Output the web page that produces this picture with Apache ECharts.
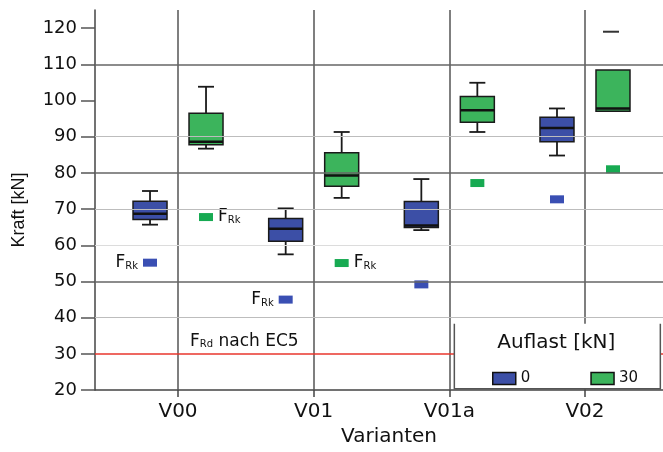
<!DOCTYPE html>
<html>
<head>
<meta charset="utf-8">
<script src="https://cdn.jsdelivr.net/npm/echarts@6/dist/echarts.min.js"></script>
<style>
  html, body { margin: 0; padding: 0; background: #fff; }
  #chart { width: 663px; height: 452px; }
</style>
</head>
<body>
<div id="chart"></div>
<script>
const categories = ['V00', 'V01', 'V01a', 'V02'];
const legendNames = ['0', '30'];
// box stats per category: [min, Q1, median, Q3, max]
const boxes0 = [
  [65.7, 67.1, 68.7, 72.2, 75.0],
  [57.5, 61.1, 64.6, 67.4, 70.2],
  [64.2, 64.9, 65.5, 72.1, 78.3],
  [84.8, 88.6, 92.4, 95.4, 97.8]
];
const boxes30 = [
  [86.7, 87.8, 88.6, 96.5, 103.8],
  [73.1, 76.3, 79.3, 85.6, 91.3],
  [91.3, 94.0, 97.3, 101.1, 104.9],
  [97.0, 97.0, 97.8, 108.4, 108.4]
];
const frk0 = [55.2, 45.0, 49.2, 72.7];
const frk30 = [67.8, 55.1, 77.2, 81.0];
const outliers30 = [[3, 119.0]]; // [category index, value]
const frdValue = 30;
const yTicks = [20, 30, 40, 50, 60, 70, 80, 90, 100, 110, 120];
const yMajorGrid = [50, 80, 110];
const yMinorGrid = [40, 60, 70, 90];

const BLUE = '#3c4fa6';
const GREEN = '#3cb45c';
const BOX_W = 34, SHIFT = 28, CAP = 16;
const FONT = 'DejaVu Sans';

const toRows = boxes => boxes.map((b, i) => [i + 1].concat(b));

function boxRender(shift, fill) {
  return function (params, api) {
    const x = api.value(0);
    const yOf = v => api.coord([x, v])[1];
    const cx = api.coord([x, api.value(3)])[0] + shift;
    const yMin = yOf(api.value(1)), yQ1 = yOf(api.value(2)), yMed = yOf(api.value(3));
    const yQ3 = yOf(api.value(4)), yMax = yOf(api.value(5));
    const ln = { stroke: '#1a1a1a', lineWidth: 1.8 };
    const kids = [];
    if (yMax < yQ3 - 0.5) {
      kids.push({ type: 'line', shape: { x1: cx, y1: yMax, x2: cx, y2: yQ3 }, style: ln });
      kids.push({ type: 'line', shape: { x1: cx - CAP / 2, y1: yMax, x2: cx + CAP / 2, y2: yMax }, style: ln });
    }
    if (yMin > yQ1 + 0.5) {
      kids.push({ type: 'line', shape: { x1: cx, y1: yQ1, x2: cx, y2: yMin }, style: ln });
      kids.push({ type: 'line', shape: { x1: cx - CAP / 2, y1: yMin, x2: cx + CAP / 2, y2: yMin }, style: ln });
    }
    kids.push({ type: 'rect', shape: { x: cx - BOX_W / 2, y: yQ3, width: BOX_W, height: yQ1 - yQ3 },
      style: { fill: fill, stroke: '#1a1a1a', lineWidth: 1.5 } });
    kids.push({ type: 'line', shape: { x1: cx - BOX_W / 2, y1: yMed, x2: cx + BOX_W / 2, y2: yMed },
      style: { stroke: '#111', lineWidth: 2.5 } });
    return { type: 'group', children: kids };
  };
}

const rkRich = {
  f: { fontFamily: FONT, fontSize: 17, color: '#111', verticalAlign: 'bottom' },
  s: { fontFamily: FONT, fontSize: 10, color: '#111', verticalAlign: 'bottom' }
};
const frkLabelSide0 = ['left', 'left', null, null];
const frkLabelSide30 = ['right', 'right', null, null];
function frkData(vals, sides) {
  return vals.map((v, i) => {
    const item = { value: [i + 1, v] };
    if (sides[i]) {
      item.label = { show: true, position: sides[i], distance: 5, formatter: '{f|F}{s|Rk}', rich: rkRich };
    }
    return item;
  });
}

const gridLines = [];
categories.forEach((c, i) => gridLines.push({ xAxis: i + 1, lineStyle: { color: '#555', width: 1.5, type: 'solid' } }));
yMajorGrid.forEach(v => gridLines.push({ yAxis: v, lineStyle: { color: '#666', width: 1.5, type: 'solid' } }));
yMinorGrid.forEach(v => gridLines.push({ yAxis: v, lineStyle: { color: v === 60 ? '#dcdcdc' : '#bdbdbd', width: 1, type: 'solid' } }));

const chart = echarts.init(document.getElementById('chart'));
chart.setOption({
  animation: false,
  grid: { left: 95, right: 0, top: 10, bottom: 57 },
  xAxis: {
    type: 'value', min: 0.388, max: 4.575,
    name: 'Varianten', nameLocation: 'middle', nameGap: 31,
    nameTextStyle: { fontFamily: FONT, fontSize: 20, color: '#111', padding: [0, 0, 0, 20] },
    axisLine: { lineStyle: { color: '#444', width: 1.5 } },
    axisTick: { show: true, customValues: [1, 2, 3, 4], length: 7, lineStyle: { color: '#444', width: 1.5 } },
    axisLabel: { customValues: [1, 2, 3, 4], margin: 12, fontFamily: FONT, fontSize: 20, color: '#111',
      formatter: v => categories[Math.round(v) - 1] || '' },
    splitLine: { show: false }
  },
  yAxis: {
    type: 'value', min: 20, max: 125,
    name: 'Kraft [kN]', nameLocation: 'middle', nameGap: 67, nameRotate: 90,
    nameTextStyle: { fontFamily: 'Liberation Sans', fontSize: 18, color: '#111', padding: [0, 20, 0, 0] },
    axisLine: { show: true, lineStyle: { color: '#444', width: 1.5 } },
    axisTick: { show: true, customValues: yTicks, length: 14, lineStyle: { color: '#555', width: 1.5 } },
    axisLabel: { customValues: yTicks, margin: 18, fontFamily: FONT, fontSize: 18, color: '#111' },
    splitLine: { show: false }
  },
  legend: {
    data: legendNames, left: 487, top: 366, z: 20,
    icon: 'rect', itemWidth: 23, itemHeight: 12, itemGap: 60,
    itemStyle: { borderColor: '#111', borderWidth: 1.5 },
    textStyle: { fontFamily: FONT, fontSize: 15, color: '#111', padding: [2, 0, 0, 0] }
  },
  series: [
    {
      name: 'grid', type: 'line', data: [], z: 1,
      markLine: { silent: true, symbol: 'none', label: { show: false }, animation: false, data: gridLines }
    },
    {
      name: 'frd', type: 'line', data: [], z: 2,
      markLine: { silent: true, symbol: 'none', label: { show: false }, animation: false,
        data: [{ yAxis: frdValue, lineStyle: { color: '#e8362c', width: 1.5, type: 'solid' } }] }
    },
    {
      name: legendNames[0], type: 'custom', z: 3, itemStyle: { color: BLUE },
      encode: { x: 0, y: [1, 2, 3, 4, 5] },
      renderItem: boxRender(-SHIFT, BLUE), data: toRows(boxes0)
    },
    {
      name: legendNames[1], type: 'custom', z: 3, itemStyle: { color: GREEN },
      encode: { x: 0, y: [1, 2, 3, 4, 5] },
      renderItem: boxRender(SHIFT, GREEN), data: toRows(boxes30)
    },
    {
      name: 'Frk0', type: 'scatter', z: 4, symbol: 'rect', symbolSize: [14, 8], symbolOffset: [-SHIFT, 0],
      itemStyle: { color: '#3a4fb3', opacity: 1 }, data: frkData(frk0, frkLabelSide0)
    },
    {
      name: 'Frk30', type: 'scatter', z: 4, symbol: 'rect', symbolSize: [14, 8], symbolOffset: [SHIFT, 0],
      itemStyle: { color: '#17aa52', opacity: 1 }, data: frkData(frk30, frkLabelSide30)
    },
    {
      name: 'outlier30', type: 'scatter', z: 4, symbol: 'rect', symbolSize: [16, 2], symbolOffset: [SHIFT - 2, 0],
      itemStyle: { color: '#333', opacity: 1 }, data: outliers30.map(o => [o[0] + 1, o[1]])
    }
  ]
});

// annotations placed through the chart's own scales
const pFrd = chart.convertToPixel({ gridIndex: 0 }, [1, frdValue]);
const pBox = chart.convertToPixel({ gridIndex: 0 }, [3, 40]);
chart.setOption({
  graphic: [
    {
      type: 'text', z: 5, x: pFrd[0] + 12, y: pFrd[1] - 4,
      style: { text: '{f|F}{s|Rd}{t| nach EC5}', verticalAlign: 'bottom',
        rich: {
          f: { fontFamily: FONT, fontSize: 17, fill: '#111', verticalAlign: 'bottom' },
          s: { fontFamily: FONT, fontSize: 10, fill: '#111', verticalAlign: 'bottom' },
          t: { fontFamily: FONT, fontSize: 17, fill: '#111', verticalAlign: 'bottom' }
        } }
    },
    {
      type: 'rect', z: 10, shape: { x: pBox[0] + 5, y: pBox[1] + 6, width: 206, height: 65 },
      style: { fill: '#fff' }
    },
    {
      type: 'polyline', z: 11,
      shape: { points: [[pBox[0] + 5, pBox[1] + 6], [pBox[0] + 5, pBox[1] + 71], [pBox[0] + 211, pBox[1] + 71], [pBox[0] + 211, pBox[1] + 6]] },
      style: { stroke: '#555', lineWidth: 1.5, fill: null }
    },
    {
      type: 'text', z: 20, x: pBox[0] + 107, y: pBox[1] + 25,
      style: { text: 'Auflast [kN]', fontFamily: FONT, fontSize: 20, fill: '#111', align: 'center', verticalAlign: 'middle' }
    }
  ]
});
</script>
</body>
</html>
